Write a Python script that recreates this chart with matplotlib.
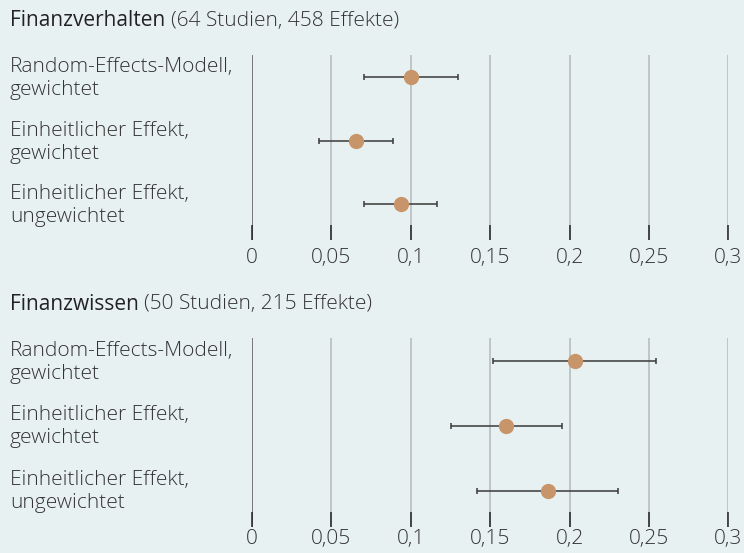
import matplotlib
matplotlib.use("Agg")
from matplotlib import pyplot as plt
from matplotlib import transforms, font_manager
import numpy as np

labels = ["Random-Effects-Modell,\ngewichtet",
          "Einheitlicher Effekt,\ngewichtet",
          "Einheitlicher Effekt,\nungewichtet"]

titles = ["Finanzverhalten", "Finanzwissen"]
subtitles = ["(64 Studien, 458 Effekte)", "(50 Studien, 215 Effekte)"]

# point estimates and confidence bounds, per panel
verhalten_est = [0.100, 0.0655, 0.094]
verhalten_lo = [0.0707, 0.0424, 0.0707]
verhalten_hi = [0.1296, 0.0886, 0.1167]

wissen_est = [0.2034, 0.160, 0.1866]
wissen_lo = [0.152, 0.1256, 0.1419]
wissen_hi = [0.2547, 0.195, 0.2307]

xticks = [0, 0.05, 0.1, 0.15, 0.2, 0.25, 0.3]
xticklabels = ["0", "0,05", "0,1", "0,15", "0,2", "0,25", "0,3"]

bg = "#e8f1f2"
dot = "#c8956a"

# pick a family that really has a light face installed
FONT, LIGHT = "Open Sans", "normal"
for fam in ["Open Sans", "Lato", "Roboto", "Noto Sans"]:
    ws = [f.weight for f in font_manager.fontManager.ttflist if f.name == fam]
    ws = [w if isinstance(w, int) else 400 for w in ws]
    if any(w <= 300 for w in ws):
        FONT, LIGHT = fam, 300
        break

FS = 15.0

W, H = 744, 553
fig = plt.figure(figsize=(W / 100, H / 100), dpi=100, facecolor=bg)

def px_axes(left, top, right, bottom):
    return fig.add_axes([left / W, 1 - bottom / H, (right - left) / W, (bottom - top) / H])

panels = [
    (px_axes(252, 55, 728.3, 240), verhalten_est, verhalten_lo, verhalten_hi, 21, 6.0),
    (px_axes(252, 338, 728.3, 527), wissen_est, wissen_lo, wissen_hi, 304, 1.2),
]

for i, (ax, est, lo, hi, title_y, pad) in enumerate(panels):
    ax.set_facecolor(bg)
    y = np.arange(len(est))
    est = np.array(est)
    xerr = [est - np.array(lo), np.array(hi) - est]
    ax.errorbar(est, y, xerr=xerr, fmt="none", ecolor="#3a3a3a",
                elinewidth=1.1, capsize=2.3, capthick=1.1, zorder=3)
    ax.plot(est, y, "o", color=dot, markersize=11, markeredgewidth=0, zorder=4)

    ax.set_xlim(0, 0.3)
    ax.set_ylim(2.56, -0.35)
    for xt in xticks:
        ax.axvline(xt, color="#777777" if xt == 0 else "#b4b9bb",
                   lw=1.4 if xt == 0 else 1.1, zorder=1)
    for s in ax.spines.values():
        s.set_visible(False)
    ax.set_yticks([])
    ax.set_xticks(xticks)
    ax.set_xticklabels(xticklabels, fontsize=FS, color="#333333",
                       family=FONT, fontweight=LIGHT)
    ax.tick_params(axis="x", direction="in", length=11, width=1.1,
                   color="#222222", pad=pad)

    trans = transforms.blended_transform_factory(fig.transFigure, ax.transData)
    for yy, lab in zip(y, labels):
        ax.text(10 / W, yy + 0.02, lab, transform=trans, ha="left", va="center",
                fontsize=FS, color="#333333", family=FONT,
                fontweight=LIGHT, linespacing=1.2)

    t = fig.text(10 / W, 1 - title_y / H, titles[i] + " ", ha="left", va="center",
                 fontsize=FS, color="#222222", family=FONT)
    fig.canvas.draw()
    ext = t.get_window_extent()
    fig.text(ext.x1 / W, 1 - title_y / H, subtitles[i], ha="left", va="center",
             fontsize=FS, color="#333333", family=FONT, fontweight=LIGHT)

fig.savefig("out.png", dpi=100, facecolor=bg)
